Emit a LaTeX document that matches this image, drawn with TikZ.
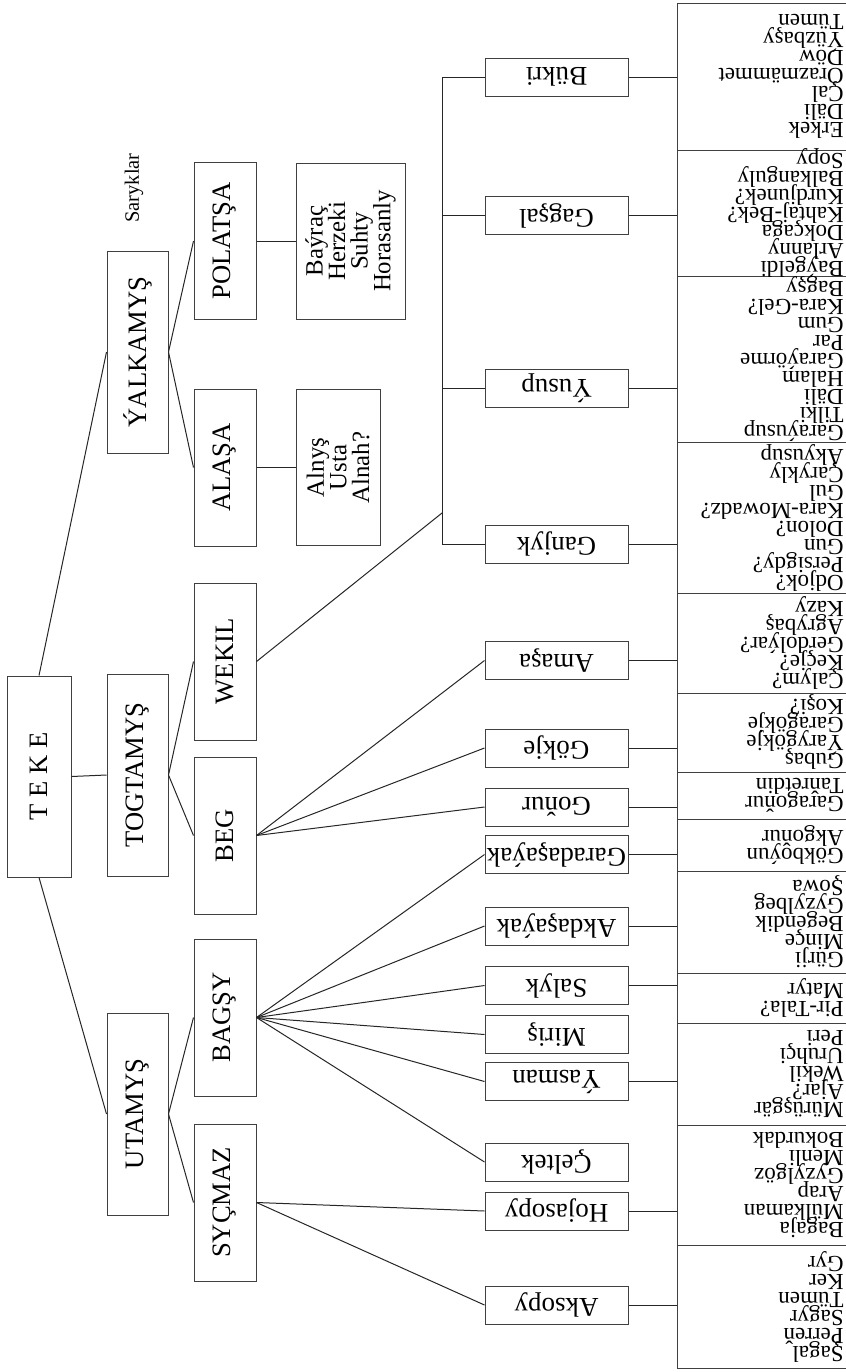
\documentclass[tikz,border=0pt]{standalone}
\usepackage{fontspec}
\setmainfont{Liberation Serif}
\usepackage{graphicx}
\usetikzlibrary{positioning}

\tikzset{
    clan/.style={draw=black!75,line width=.5pt,inner sep=0pt,minimum width=30.5pt,minimum height=101pt,font=\fontsize{13.3}{15}\selectfont},
    tribe/.style={clan,minimum width=31pt,minimum height=78.5pt},
    kinbox/.style={draw=black!75,line width=.5pt,rotate=90,align=center,inner sep=0pt,minimum width=78pt,font={\fontsize{12.4}{11.3}\selectfont\lineskiplimit=-20pt}},
    branch/.style={draw=black!75,line width=.5pt,inner sep=0pt,minimum width=71.5pt,minimum height=19pt,font=\fontsize{13.5}{15}\selectfont},
    listbox/.style={draw=black!75,line width=.5pt,anchor=west,inner sep=0pt,minimum width=87.5pt},
    listtext/.style={rotate=180,anchor=west,align=left,inner sep=0pt,font={\fontsize{11.5}{9}\selectfont\lineskiplimit=-20pt}},
    link/.style={black!85,line width=.5pt}
}

\begin{document}
\begin{tikzpicture}[x=.5pt,y=-.5pt]
    \useasboundingbox (0,0) rectangle (846,1372);

    \node[clan,minimum width=32pt,minimum height=100.5pt] (teke) at (39,776.5) {\rotatebox{90}{T E K E}};
    \node[clan] (yalkamys) at (137.5,352) {\rotatebox{90}{ÝALKAMYŞ}};
    \node[clan] (togtamys) at (137.5,775) {\rotatebox{90}{TOGTAMYŞ}};
    \node[clan] (utamys) at (137.5,1114) {\rotatebox{90}{UTAMYŞ}};
    \node[rotate=90,inner sep=0pt,font=\fontsize{10.2}{12}\selectfont] (saryklar) at (134,188) {Saryklar};

    \node[tribe] (polatsa) at (225,241) {\rotatebox{90}{POLATŞA}};
    \node[tribe] (alasa) at (225,467.5) {\rotatebox{90}{ALAŞA}};
    \node[tribe] (wekil) at (225,661.5) {\rotatebox{90}{WEKIL}};
    \node[tribe] (beg) at (225,835.5) {\rotatebox{90}{BEG}};
    \node[tribe] (bagsy) at (225,1017.5) {\rotatebox{90}{BAGŞY}};
    \node[tribe] (sycmaz) at (225,1202.5) {\rotatebox{90}{SYÇMAZ}};

    \node[kinbox,minimum height=54.5pt] (bayrac) at (350.5,241) {Baýraç\\Herzeki\\Suhty\\Horasanly};
    \node[kinbox,minimum height=42pt] (alnys) at (338,467.5) {Alnyş\\Usta\\Alnah?};

    \foreach \n/\y/\t in {bukri/77/Bükri,gagsal/215.5/Gagşal,yusup/388/Ýusup,ganjyk/544/Ganjyk,
        amasa/660.5/Amaşa,gokje/748/Gökje,gonur/807/Goňur,garadasayak/854.5/Garadaşaýak,
        akdasayak/926/Akdaşaýak,salyk/985.5/Salyk,miris/1034.5/Miriş,yasman/1081.5/Ýasman,
        celtek/1162/Çeltek,hojasopy/1211/Hojasopy,aksopy/1305/Aksopy}
        \node[branch] (\n) at (556.5,\y) {\rotatebox{180}{\t}};

    \foreach \n/\y/\h in {bukri/76.5/73.5,gagsal/213/63,yusup/359/83,ganjyk/517.5/75.5,
        amasa/643/50,gokje/732.5/39.5,gonur/795.5/23.5,garadasayak/845/26,
        akdasayak/922/51,salyk/998/25,yasman/1074/51,hojasopy/1185/60,aksopy/1306.5/61.5}
        \node[listbox,minimum height=\h pt] (l\n) at (677,\y) {};

    \node[listtext] (tbukri) at ([xshift=-4.5pt]lbukri.east) {Erkek\\Däli\\Çal\\Orazmämmet\\Döw\\Ýüzbaşy\\Tümen};
    \node[listtext] (tgagsal) at ([xshift=-4.5pt]lgagsal.east) {Baýgeldi\\Arlanny\\Dokçaga\\Kahtaj-Bek?\\Kurdjunek?\\Balkanguly\\Sopy};
    \node[listtext] (tyusup) at ([xshift=-4.5pt]lyusup.east) {Garaýusup\\Tilki\\Däli\\Halam\\Garaýörme\\Par\\Gum\\Kara-Gel?\\Bagşy};
    \node[listtext] (tganjyk) at ([xshift=-4.5pt]lganjyk.east) {Odjok?\\Persigdy?\\Gun\\Dolon?\\Kara-Mowadz?\\Gul\\Çarykly\\Akyusup};
    \node[listtext] (tamasa) at ([xshift=-4.5pt]lamasa.east) {Çalym?\\Keçje?\\Gerdolýar?\\Agrybaş\\Kazy};
    \node[listtext] (tgokje) at ([xshift=-4.5pt]lgokje.east) {Gubaş\\Ýarygökje\\Garagökje\\Koşi?};
    \node[listtext] (tgonur) at ([xshift=-4.5pt]lgonur.east) {Garagoňur\\Taňretdin};
    \node[listtext] (tgaradasayak) at ([xshift=-4.5pt]lgaradasayak.east) {Gökboýun\\Akgoňur};
    \node[listtext] (takdasayak) at ([xshift=-4.5pt]lakdasayak.east) {Gürji\\Minçe\\Begendik\\Gyzylbeg\\Şowa};
    \node[listtext] (tsalyk) at ([xshift=-4.5pt]lsalyk.east) {Pir-Tala?\\Matyr};
    \node[listtext] (tyasman) at ([xshift=-4.5pt]lyasman.east) {Mürüşgär\\Ajar?\\Wekil\\Uruhçi\\Peri};
    \node[listtext] (thojasopy) at ([xshift=-4.5pt]lhojasopy.east) {Bagaja\\Mülkaman\\Arap\\Gyzylgöz\\Menli\\Bokurdak};
    \node[listtext] (taksopy) at ([xshift=-4.5pt]laksopy.east) {Şagal\\Perreň\\Sagyr\\Tümen\\Ker\\Gyr};

    \draw[link] (teke.north) -- (yalkamys.west);
    \draw[link] (teke.east) -- (togtamys.west);
    \draw[link] (teke.south) -- (utamys.west);
    \draw[link] (yalkamys.east) -- (polatsa.west);
    \draw[link] (yalkamys.east) -- (alasa.west);
    \draw[link] (togtamys.east) -- (wekil.west);
    \draw[link] (togtamys.east) -- (beg.west);
    \draw[link] (utamys.east) -- (bagsy.west);
    \draw[link] (utamys.east) -- (sycmaz.west);
    \draw[link] (polatsa) -- (bayrac);
    \draw[link] (alasa) -- (alnys);

    \coordinate (fork) at (442,513);
    \draw[link] (wekil.east) -- (fork);
    \draw[link] (bukri.west -| fork) -- (ganjyk.west -| fork);
    \foreach \n in {bukri,gagsal,yusup,ganjyk}
        \draw[link] (\n.west -| fork) -- (\n.west);
    \foreach \n in {amasa,gokje,gonur}
        \draw[link] (beg.east) -- (\n.west);
    \foreach \n in {garadasayak,akdasayak,salyk,miris,yasman,celtek}
        \draw[link] (bagsy.east) -- (\n.west);
    \foreach \n in {hojasopy,aksopy}
        \draw[link] (sycmaz.east) -- (\n.west);

    \foreach \n in {bukri,gagsal,yusup,ganjyk,amasa,gokje,gonur,garadasayak,akdasayak,salyk,yasman,hojasopy,aksopy}
        \draw[link] (\n.east) -- (\n.east -| l\n.west);
\end{tikzpicture}
\end{document}
